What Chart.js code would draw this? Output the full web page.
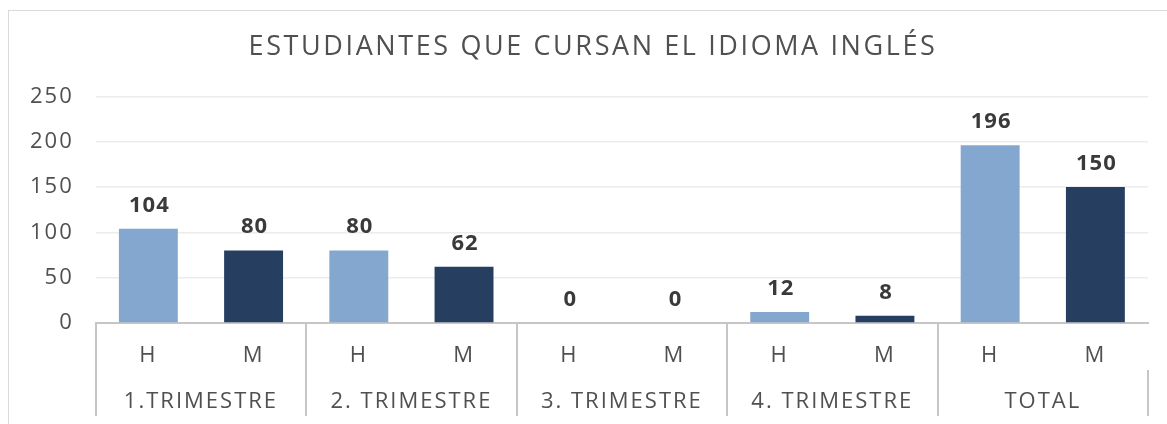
<!DOCTYPE html>
<html>
<head>
<meta charset="utf-8">
<script src="https://cdn.jsdelivr.net/npm/chart.js@4/dist/chart.umd.min.js"></script>
<style>
  html, body { margin: 0; padding: 0; background: #fff; overflow: hidden; }
  #frame { position: absolute; left: 8px; top: 10px; width: 1200px; height: 500px; border: 1px solid #d9d9d9; }
  #wrap { position: absolute; left: 0; top: 0; width: 1167px; height: 424px; }
</style>
</head>
<body>
<div id="frame"></div>
<div id="wrap"><canvas id="chart"></canvas></div>
<script>
// chart data
const trimestres = ['1.TRIMESTRE', '2. TRIMESTRE', '3. TRIMESTRE', '4. TRIMESTRE', 'TOTAL'];
const sexos = ['H', 'M'];
const hombres = [104, 80, 0, 12, 196];
const mujeres = [80, 62, 0, 8, 150];
const yTicks = [0, 50, 100, 150, 200, 250];

const colorH = '#84A7CF';
const colorM = '#263F60';
const textColor = '#505050';
const lineColor = '#c6c6c6';
const fontFamily = '"Open Sans", "DejaVu Sans", sans-serif';

// one bar per H / M inside each trimester
const labels = trimestres.flatMap(() => sexos);
const values = trimestres.flatMap((t, i) => [hombres[i], mujeres[i]]);
const colors = labels.map(s => s === 'H' ? colorH : colorM);

// wider text, closer to the original typeface
const spacing = {
    id: 'spacing',
    beforeDraw(chart) {
        chart.ctx.letterSpacing = '2px';
    }
};

// draws the value above each bar
const valueLabels = {
    id: 'valueLabels',
    afterDatasetsDraw(chart) {
        const ctx = chart.ctx;
        const meta = chart.getDatasetMeta(0);
        ctx.save();
        ctx.letterSpacing = '1px';
        ctx.font = 'bold 22px ' + fontFamily;
        ctx.fillStyle = '#3a3a3a';
        ctx.textAlign = 'center';
        ctx.textBaseline = 'alphabetic';
        meta.data.forEach((bar, i) => {
            ctx.fillText(String(values[i]), bar.x + 1, bar.y - 17);
        });
        ctx.restore();
    }
};

const chart = new Chart(document.getElementById('chart'), {
    type: 'bar',
    data: {
        labels: labels,
        datasets: [{
            data: values,
            backgroundColor: colors,
            categoryPercentage: 1,
            barPercentage: 0.56
        }]
    },
    plugins: [spacing, valueLabels],
    options: {
        responsive: true,
        maintainAspectRatio: false,
        animation: false,
        layout: { padding: { left: 14, right: 19, top: 0, bottom: 8 } },
        plugins: {
            legend: { display: false },
            tooltip: { enabled: false },
            title: {
                display: true,
                text: 'ESTUDIANTES QUE CURSAN EL IDIOMA INGLÉS',
                color: textColor,
                font: { family: fontFamily, size: 27, weight: 'normal' },
                padding: { top: 31, bottom: 33 }
            }
        },
        scales: {
            y: {
                min: 0,
                max: 250,
                afterBuildTicks: axis => { axis.ticks = yTicks.map(v => ({ value: v })); },
                ticks: { color: textColor, font: { family: fontFamily, size: 22 }, padding: 22 },
                grid: { color: '#ececec', lineWidth: 1.5, drawTicks: false },
                border: { display: false }
            },
            x: {
                offset: true,
                afterFit: axis => { axis.height = 47; },
                ticks: { color: textColor, font: { family: fontFamily, size: 22 }, padding: -27, maxRotation: 0, autoSkip: false },
                grid: {
                    offset: true,
                    drawOnChartArea: false,
                    tickLength: 47,
                    lineWidth: 2,
                    color: c => c.index % 2 === 0 ? lineColor : 'rgba(0,0,0,0)'
                },
                border: { color: lineColor, width: 2 }
            },
            x2: {
                type: 'category',
                axis: 'x',
                position: 'bottom',
                weight: 1,
                labels: trimestres,
                offset: true,
                afterFit: axis => { axis.height = 46; },
                ticks: { color: textColor, font: { family: fontFamily, size: 22 }, padding: -27, maxRotation: 0, autoSkip: false },
                grid: { offset: true, drawOnChartArea: false, tickLength: 46, lineWidth: 2, color: lineColor },
                border: { display: false }
            }
        }
    }
});

// title gets a bit more letter spacing than the rest, centred on the frame
const title = chart.titleBlock;
const drawTitle = title.draw.bind(title);
title.draw = area => {
    chart.ctx.save();
    chart.ctx.letterSpacing = '2.6px';
    chart.ctx.translate(12, 0);
    drawTitle(area);
    chart.ctx.restore();
};
chart.draw();
</script>
</body>
</html>
